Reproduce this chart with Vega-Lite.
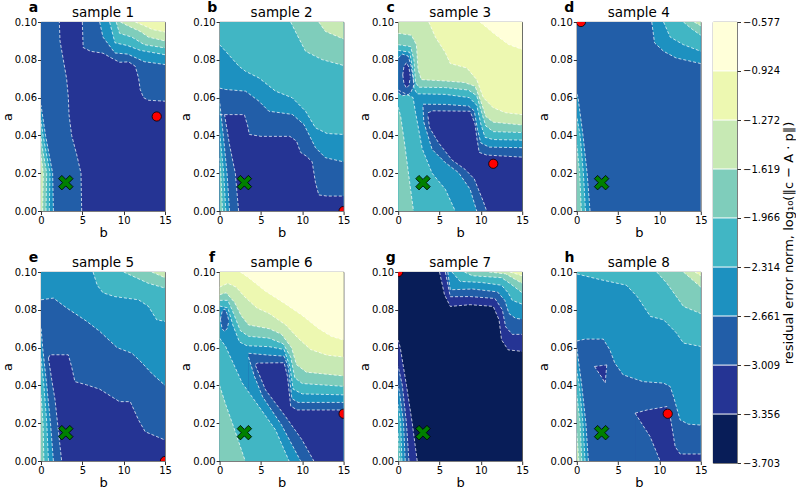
{
"$schema":"https://vega.github.io/schema/vega-lite/v6.json",
"padding":{"left":0,"top":0,"right":0,"bottom":0},
"config":{"font":"DejaVu Sans","view":{"stroke":"#333","strokeWidth":0.8},
"header":{"labels":false,"title":null,"labelPadding":0,"labelFontSize":0.1,"labelExpr":"''"},
"axis":{"labelFont":"DejaVu Sans","labelFontSize":10,"labelColor":"black","titleFont":"DejaVu Sans","titleFontSize":13,"titleFontWeight":"normal","titleColor":"black","tickColor":"#333","tickSize":3.5,"domain":false,"grid":false,"labelPadding":1,"labelOverlap":false}},
"hconcat":[
{
"data":{"values":[
{"s":1,"k":"bs","g":1,"v":1,"b":0,"a":0.1,"a2":0},{"s":1,"k":"bs","g":1,"v":1,"b":15,"a":0.1,"a2":0},
{"s":1,"k":"up","g":2,"v":2,"b":5.0,"a":0.1,"a2":0.1},{"s":1,"k":"up","g":2,"v":2,"b":5.1,"a":0.0865,"a2":0.1},{"s":1,"k":"up","g":2,"v":2,"b":6,"a":0.0845,"a2":0.1},{"s":1,"k":"up","g":2,"v":2,"b":7.5,"a":0.0835,"a2":0.1},{"s":1,"k":"up","g":2,"v":2,"b":8.5,"a":0.081,"a2":0.1},{"s":1,"k":"up","g":2,"v":2,"b":9.5,"a":0.0787,"a2":0.1},{"s":1,"k":"up","g":2,"v":2,"b":10.6,"a":0.0789,"a2":0.1},{"s":1,"k":"up","g":2,"v":2,"b":11.4,"a":0.0766,"a2":0.1},{"s":1,"k":"up","g":2,"v":2,"b":11.8,"a":0.0704,"a2":0.1},{"s":1,"k":"up","g":2,"v":2,"b":12.0,"a":0.0643,"a2":0.1},{"s":1,"k":"up","g":2,"v":2,"b":12.4,"a":0.06,"a2":0.1},{"s":1,"k":"up","g":2,"v":2,"b":13,"a":0.0586,"a2":0.1},{"s":1,"k":"up","g":2,"v":2,"b":15,"a":0.0581,"a2":0.1},
{"s":1,"k":"up","g":3,"v":3,"b":7.1,"a":0.1,"a2":0.1},{"s":1,"k":"up","g":3,"v":3,"b":7.5,"a":0.092,"a2":0.1},{"s":1,"k":"up","g":3,"v":3,"b":8.95,"a":0.0836,"a2":0.1},{"s":1,"k":"up","g":3,"v":3,"b":10.5,"a":0.083,"a2":0.1},{"s":1,"k":"up","g":3,"v":3,"b":11.5,"a":0.081,"a2":0.1},{"s":1,"k":"up","g":3,"v":3,"b":12.5,"a":0.079,"a2":0.1},{"s":1,"k":"up","g":3,"v":3,"b":15,"a":0.0775,"a2":0.1},
{"s":1,"k":"up","g":4,"v":4,"b":8.3,"a":0.1,"a2":0.1},{"s":1,"k":"up","g":4,"v":4,"b":8.95,"a":0.089,"a2":0.1},{"s":1,"k":"up","g":4,"v":4,"b":10.5,"a":0.0875,"a2":0.1},{"s":1,"k":"up","g":4,"v":4,"b":12,"a":0.085,"a2":0.1},{"s":1,"k":"up","g":4,"v":4,"b":15,"a":0.0827,"a2":0.1},
{"s":1,"k":"up","g":5,"v":5,"b":9.1,"a":0.1,"a2":0.1},{"s":1,"k":"up","g":5,"v":5,"b":9.5,"a":0.094,"a2":0.1},{"s":1,"k":"up","g":5,"v":5,"b":11,"a":0.092,"a2":0.1},{"s":1,"k":"up","g":5,"v":5,"b":12.5,"a":0.088,"a2":0.1},{"s":1,"k":"up","g":5,"v":5,"b":15,"a":0.0863,"a2":0.1},
{"s":1,"k":"up","g":6,"v":6,"b":9.6,"a":0.1,"a2":0.1},{"s":1,"k":"up","g":6,"v":6,"b":10.5,"a":0.098,"a2":0.1},{"s":1,"k":"up","g":6,"v":6,"b":12,"a":0.095,"a2":0.1},{"s":1,"k":"up","g":6,"v":6,"b":13,"a":0.092,"a2":0.1},{"s":1,"k":"up","g":6,"v":6,"b":15,"a":0.09,"a2":0.1},
{"s":1,"k":"up","g":7,"v":7,"b":11.4,"a":0.1,"a2":0.1},{"s":1,"k":"up","g":7,"v":7,"b":12.5,"a":0.098,"a2":0.1},{"s":1,"k":"up","g":7,"v":7,"b":13.5,"a":0.096,"a2":0.1},{"s":1,"k":"up","g":7,"v":7,"b":15,"a":0.0947,"a2":0.1},
{"s":1,"k":"lf","g":8,"v":2,"a":0,"b":4.92,"b2":0},{"s":1,"k":"lf","g":8,"v":2,"a":0.02,"b":4.84,"b2":0},{"s":1,"k":"lf","g":8,"v":2,"a":0.03,"b":4.31,"b2":0},{"s":1,"k":"lf","g":8,"v":2,"a":0.04,"b":3.71,"b2":0},{"s":1,"k":"lf","g":8,"v":2,"a":0.051,"b":3.39,"b2":0},{"s":1,"k":"lf","g":8,"v":2,"a":0.06,"b":3.31,"b2":0},{"s":1,"k":"lf","g":8,"v":2,"a":0.07,"b":3.1,"b2":0},{"s":1,"k":"lf","g":8,"v":2,"a":0.08,"b":2.7,"b2":0},{"s":1,"k":"lf","g":8,"v":2,"a":0.09,"b":2.3,"b2":0},{"s":1,"k":"lf","g":8,"v":2,"a":0.1,"b":2.22,"b2":0},
{"s":1,"k":"lf","g":9,"v":3,"a":0,"b":1.5,"b2":0},{"s":1,"k":"lf","g":9,"v":3,"a":0.02,"b":1.41,"b2":0},{"s":1,"k":"lf","g":9,"v":3,"a":0.04,"b":0.55,"b2":0},{"s":1,"k":"lf","g":9,"v":3,"a":0.056,"b":0,"b2":0},
{"s":1,"k":"lf","g":10,"v":4,"a":0,"b":1.0,"b2":0},{"s":1,"k":"lf","g":10,"v":4,"a":0.02,"b":1.09,"b2":0},{"s":1,"k":"lf","g":10,"v":4,"a":0.04,"b":0.25,"b2":0},{"s":1,"k":"lf","g":10,"v":4,"a":0.048,"b":0,"b2":0},
{"s":1,"k":"lf","g":11,"v":5,"a":0,"b":0.6,"b2":0},{"s":1,"k":"lf","g":11,"v":5,"a":0.02,"b":0.69,"b2":0},{"s":1,"k":"lf","g":11,"v":5,"a":0.035,"b":0.1,"b2":0},{"s":1,"k":"lf","g":11,"v":5,"a":0.04,"b":0,"b2":0},
{"s":1,"k":"lf","g":12,"v":6,"a":0,"b":0.2,"b2":0},{"s":1,"k":"lf","g":12,"v":6,"a":0.02,"b":0.28,"b2":0},{"s":1,"k":"lf","g":12,"v":6,"a":0.03,"b":0,"b2":0},
{"s":1,"k":"red","b":14,"a":0.05},{"s":1,"k":"grn","b":3,"a":0.015},{"s":1,"k":"lab","t":"a","n":"sample 1"},

{"s":2,"k":"bs","g":1,"v":4,"b":0,"a":0.1,"a2":0},{"s":2,"k":"bs","g":1,"v":4,"b":15,"a":0.1,"a2":0},
{"s":2,"k":"dn","g":2,"v":3,"b":0,"a":0.088,"a2":0},{"s":2,"k":"dn","g":2,"v":3,"b":0.73,"a":0.0845,"a2":0},{"s":2,"k":"dn","g":2,"v":3,"b":2.34,"a":0.0766,"a2":0},{"s":2,"k":"dn","g":2,"v":3,"b":3.14,"a":0.0739,"a2":0},{"s":2,"k":"dn","g":2,"v":3,"b":4.76,"a":0.0704,"a2":0},{"s":2,"k":"dn","g":2,"v":3,"b":6.77,"a":0.0634,"a2":0},{"s":2,"k":"dn","g":2,"v":3,"b":8.79,"a":0.0599,"a2":0},{"s":2,"k":"dn","g":2,"v":3,"b":10.4,"a":0.0528,"a2":0},{"s":2,"k":"dn","g":2,"v":3,"b":11.6,"a":0.044,"a2":0},{"s":2,"k":"dn","g":2,"v":3,"b":13,"a":0.041,"a2":0},{"s":2,"k":"dn","g":2,"v":3,"b":15,"a":0.0405,"a2":0},
{"s":2,"k":"dn","g":3,"v":2,"b":0,"a":0.065,"a2":0},{"s":2,"k":"dn","g":3,"v":2,"b":0.73,"a":0.0643,"a2":0},{"s":2,"k":"dn","g":3,"v":2,"b":3.14,"a":0.0634,"a2":0},{"s":2,"k":"dn","g":3,"v":2,"b":4.76,"a":0.0581,"a2":0},{"s":2,"k":"dn","g":3,"v":2,"b":5.96,"a":0.0528,"a2":0},{"s":2,"k":"dn","g":3,"v":2,"b":8.8,"a":0.0511,"a2":0},{"s":2,"k":"dn","g":3,"v":2,"b":10.2,"a":0.0458,"a2":0},{"s":2,"k":"dn","g":3,"v":2,"b":11.6,"a":0.0335,"a2":0},{"s":2,"k":"dn","g":3,"v":2,"b":12.8,"a":0.0282,"a2":0},{"s":2,"k":"dn","g":3,"v":2,"b":15,"a":0.026,"a2":0},
{"s":2,"k":"dn","g":4,"v":1,"b":0,"a":0.051,"a2":0},{"s":2,"k":"dn","g":4,"v":1,"b":3.0,"a":0.051,"a2":0},{"s":2,"k":"dn","g":4,"v":1,"b":3.4,"a":0.045,"a2":0},{"s":2,"k":"dn","g":4,"v":1,"b":3.6,"a":0.0405,"a2":0},{"s":2,"k":"dn","g":4,"v":1,"b":5,"a":0.0395,"a2":0},{"s":2,"k":"dn","g":4,"v":1,"b":8.5,"a":0.0395,"a2":0},{"s":2,"k":"dn","g":4,"v":1,"b":9.3,"a":0.037,"a2":0},{"s":2,"k":"dn","g":4,"v":1,"b":9.8,"a":0.031,"a2":0},{"s":2,"k":"dn","g":4,"v":1,"b":10.5,"a":0.029,"a2":0},{"s":2,"k":"dn","g":4,"v":1,"b":11.2,"a":0.026,"a2":0},{"s":2,"k":"dn","g":4,"v":1,"b":11.6,"a":0.015,"a2":0},{"s":2,"k":"dn","g":4,"v":1,"b":12,"a":0.0085,"a2":0},{"s":2,"k":"dn","g":4,"v":1,"b":13,"a":0.0079,"a2":0},{"s":2,"k":"dn","g":4,"v":1,"b":15,"a":0.0079,"a2":0},
{"s":2,"k":"up","g":5,"v":5,"b":8.6,"a":0.1,"a2":0.1},{"s":2,"k":"up","g":5,"v":5,"b":9.4,"a":0.093,"a2":0.1},{"s":2,"k":"up","g":5,"v":5,"b":10.4,"a":0.0845,"a2":0.1},{"s":2,"k":"up","g":5,"v":5,"b":12.4,"a":0.0801,"a2":0.1},{"s":2,"k":"up","g":5,"v":5,"b":15,"a":0.077,"a2":0.1},
{"s":2,"k":"up","g":6,"v":6,"b":12.0,"a":0.1,"a2":0.1},{"s":2,"k":"up","g":6,"v":6,"b":12.8,"a":0.095,"a2":0.1},{"s":2,"k":"up","g":6,"v":6,"b":15,"a":0.091,"a2":0.1},
{"s":2,"k":"lf","g":7,"v":2,"a":0,"b":2.3,"b2":0},{"s":2,"k":"lf","g":7,"v":2,"a":0.02,"b":1.9,"b2":0},{"s":2,"k":"lf","g":7,"v":2,"a":0.035,"b":1.2,"b2":0},{"s":2,"k":"lf","g":7,"v":2,"a":0.051,"b":0.6,"b2":0},
{"s":2,"k":"lf","g":8,"v":3,"a":0,"b":1.2,"b2":0},{"s":2,"k":"lf","g":8,"v":3,"a":0.02,"b":0.9,"b2":0},{"s":2,"k":"lf","g":8,"v":3,"a":0.04,"b":0.45,"b2":0},{"s":2,"k":"lf","g":8,"v":3,"a":0.058,"b":0,"b2":0},
{"s":2,"k":"lf","g":9,"v":4,"a":0,"b":0.75,"b2":0},{"s":2,"k":"lf","g":9,"v":4,"a":0.02,"b":0.5,"b2":0},{"s":2,"k":"lf","g":9,"v":4,"a":0.035,"b":0.15,"b2":0},{"s":2,"k":"lf","g":9,"v":4,"a":0.042,"b":0,"b2":0},
{"s":2,"k":"lf","g":10,"v":5,"a":0,"b":0.35,"b2":0},{"s":2,"k":"lf","g":10,"v":5,"a":0.02,"b":0.15,"b2":0},{"s":2,"k":"lf","g":10,"v":5,"a":0.028,"b":0,"b2":0},
{"s":2,"k":"red","b":15,"a":0},{"s":2,"k":"grn","b":3,"a":0.015},{"s":2,"k":"lab","t":"b","n":"sample 2"},

{"s":3,"k":"bs","g":1,"v":6,"b":0,"a":0.1,"a2":0},{"s":3,"k":"bs","g":1,"v":6,"b":15,"a":0.1,"a2":0},
{"s":3,"k":"up","g":2,"v":7,"b":3.7,"a":0.1,"a2":0.1},{"s":3,"k":"up","g":2,"v":7,"b":4.5,"a":0.092,"a2":0.1},{"s":3,"k":"up","g":2,"v":7,"b":5.7,"a":0.0838,"a2":0.1},{"s":3,"k":"up","g":2,"v":7,"b":6.3,"a":0.078,"a2":0.1},{"s":3,"k":"up","g":2,"v":7,"b":8.3,"a":0.0757,"a2":0.1},{"s":3,"k":"up","g":2,"v":7,"b":9.5,"a":0.0695,"a2":0.1},{"s":3,"k":"up","g":2,"v":7,"b":10.3,"a":0.06,"a2":0.1},{"s":3,"k":"up","g":2,"v":7,"b":11.5,"a":0.0546,"a2":0.1},{"s":3,"k":"up","g":2,"v":7,"b":13,"a":0.052,"a2":0.1},{"s":3,"k":"up","g":2,"v":7,"b":15,"a":0.051,"a2":0.1},
{"s":3,"k":"up","g":3,"v":8,"b":9.9,"a":0.1,"a2":0.1},{"s":3,"k":"up","g":3,"v":8,"b":11.7,"a":0.0935,"a2":0.1},{"s":3,"k":"up","g":3,"v":8,"b":13.3,"a":0.0882,"a2":0.1},{"s":3,"k":"up","g":3,"v":8,"b":15,"a":0.0855,"a2":0.1},
{"s":3,"k":"dn","g":4,"v":5,"b":0,"a":0.094,"a2":0},{"s":3,"k":"dn","g":4,"v":5,"b":1.6,"a":0.093,"a2":0},{"s":3,"k":"dn","g":4,"v":5,"b":2.2,"a":0.088,"a2":0},{"s":3,"k":"dn","g":4,"v":5,"b":2.4,"a":0.075,"a2":0},{"s":3,"k":"dn","g":4,"v":5,"b":2.8,"a":0.0695,"a2":0},{"s":3,"k":"dn","g":4,"v":5,"b":5.7,"a":0.0688,"a2":0},{"s":3,"k":"dn","g":4,"v":5,"b":8,"a":0.068,"a2":0},{"s":3,"k":"dn","g":4,"v":5,"b":9.3,"a":0.066,"a2":0},{"s":3,"k":"dn","g":4,"v":5,"b":10,"a":0.058,"a2":0},{"s":3,"k":"dn","g":4,"v":5,"b":10.6,"a":0.05,"a2":0},{"s":3,"k":"dn","g":4,"v":5,"b":11.5,"a":0.047,"a2":0},{"s":3,"k":"dn","g":4,"v":5,"b":15,"a":0.0455,"a2":0},
{"s":3,"k":"dn","g":5,"v":4,"b":0,"a":0.088,"a2":0},{"s":3,"k":"dn","g":5,"v":4,"b":1.5,"a":0.087,"a2":0},{"s":3,"k":"dn","g":5,"v":4,"b":1.9,"a":0.08,"a2":0},{"s":3,"k":"dn","g":5,"v":4,"b":2.1,"a":0.068,"a2":0},{"s":3,"k":"dn","g":5,"v":4,"b":2.5,"a":0.0655,"a2":0},{"s":3,"k":"dn","g":5,"v":4,"b":5.7,"a":0.0653,"a2":0},{"s":3,"k":"dn","g":5,"v":4,"b":8.5,"a":0.064,"a2":0},{"s":3,"k":"dn","g":5,"v":4,"b":9.5,"a":0.061,"a2":0},{"s":3,"k":"dn","g":5,"v":4,"b":10.1,"a":0.052,"a2":0},{"s":3,"k":"dn","g":5,"v":4,"b":10.6,"a":0.045,"a2":0},{"s":3,"k":"dn","g":5,"v":4,"b":11.5,"a":0.042,"a2":0},{"s":3,"k":"dn","g":5,"v":4,"b":15,"a":0.0415,"a2":0},
{"s":3,"k":"dn","g":6,"v":3,"b":0,"a":0.085,"a2":0},{"s":3,"k":"dn","g":6,"v":3,"b":1.4,"a":0.084,"a2":0},{"s":3,"k":"dn","g":6,"v":3,"b":1.75,"a":0.075,"a2":0},{"s":3,"k":"dn","g":6,"v":3,"b":1.9,"a":0.065,"a2":0},{"s":3,"k":"dn","g":6,"v":3,"b":2.3,"a":0.062,"a2":0},{"s":3,"k":"dn","g":6,"v":3,"b":5.7,"a":0.0617,"a2":0},{"s":3,"k":"dn","g":6,"v":3,"b":8.6,"a":0.06,"a2":0},{"s":3,"k":"dn","g":6,"v":3,"b":9.5,"a":0.056,"a2":0},{"s":3,"k":"dn","g":6,"v":3,"b":10,"a":0.046,"a2":0},{"s":3,"k":"dn","g":6,"v":3,"b":10.5,"a":0.039,"a2":0},{"s":3,"k":"dn","g":6,"v":3,"b":11.5,"a":0.0378,"a2":0},{"s":3,"k":"dn","g":6,"v":3,"b":15,"a":0.0375,"a2":0},
{"s":3,"k":"dn","g":7,"v":2,"b":3.0,"a":0.0565,"a2":0},{"s":3,"k":"dn","g":7,"v":2,"b":5.7,"a":0.0564,"a2":0},{"s":3,"k":"dn","g":7,"v":2,"b":8.5,"a":0.0555,"a2":0},{"s":3,"k":"dn","g":7,"v":2,"b":9.2,"a":0.053,"a2":0},{"s":3,"k":"dn","g":7,"v":2,"b":9.6,"a":0.043,"a2":0},{"s":3,"k":"dn","g":7,"v":2,"b":10.0,"a":0.036,"a2":0},{"s":3,"k":"dn","g":7,"v":2,"b":11,"a":0.0338,"a2":0},{"s":3,"k":"dn","g":7,"v":2,"b":15,"a":0.0335,"a2":0},
{"s":3,"k":"dn","g":8,"v":1,"b":3.6,"a":0.052,"a2":0},{"s":3,"k":"dn","g":8,"v":1,"b":4.2,"a":0.053,"a2":0},{"s":3,"k":"dn","g":8,"v":1,"b":8.7,"a":0.0528,"a2":0},{"s":3,"k":"dn","g":8,"v":1,"b":9.3,"a":0.046,"a2":0},{"s":3,"k":"dn","g":8,"v":1,"b":9.5,"a":0.039,"a2":0},{"s":3,"k":"dn","g":8,"v":1,"b":9.8,"a":0.031,"a2":0},{"s":3,"k":"dn","g":8,"v":1,"b":10.7,"a":0.0296,"a2":0},{"s":3,"k":"dn","g":8,"v":1,"b":15,"a":0.0285,"a2":0},
{"s":3,"k":"dn","g":9,"v":2,"b":3.6,"a":0.05,"a2":0},{"s":3,"k":"dn","g":9,"v":2,"b":3.8,"a":0.044,"a2":0},{"s":3,"k":"dn","g":9,"v":2,"b":4.9,"a":0.036,"a2":0},{"s":3,"k":"dn","g":9,"v":2,"b":6.5,"a":0.027,"a2":0},{"s":3,"k":"dn","g":9,"v":2,"b":8.1,"a":0.022,"a2":0},{"s":3,"k":"dn","g":9,"v":2,"b":9.2,"a":0.017,"a2":0},{"s":3,"k":"dn","g":9,"v":2,"b":9.7,"a":0.0115,"a2":0},{"s":3,"k":"dn","g":9,"v":2,"b":10.3,"a":0.005,"a2":0},{"s":3,"k":"dn","g":9,"v":2,"b":10.7,"a":0,"a2":0},
{"s":3,"k":"dn","g":10,"v":3,"b":3.0,"a":0.055,"a2":0},{"s":3,"k":"dn","g":10,"v":3,"b":3.1,"a":0.047,"a2":0},{"s":3,"k":"dn","g":10,"v":3,"b":4.1,"a":0.0326,"a2":0},{"s":3,"k":"dn","g":10,"v":3,"b":5.7,"a":0.0256,"a2":0},{"s":3,"k":"dn","g":10,"v":3,"b":7.3,"a":0.0203,"a2":0},{"s":3,"k":"dn","g":10,"v":3,"b":8.7,"a":0.0115,"a2":0},{"s":3,"k":"dn","g":10,"v":3,"b":9.5,"a":0,"a2":0},
{"s":3,"k":"dn","g":11,"v":4,"b":0,"a":0.064,"a2":0},{"s":3,"k":"dn","g":11,"v":4,"b":1.8,"a":0.06,"a2":0},{"s":3,"k":"dn","g":11,"v":4,"b":2.1,"a":0.052,"a2":0},{"s":3,"k":"dn","g":11,"v":4,"b":2.4,"a":0.045,"a2":0},{"s":3,"k":"dn","g":11,"v":4,"b":2.9,"a":0.033,"a2":0},{"s":3,"k":"dn","g":11,"v":4,"b":4.1,"a":0.02,"a2":0},{"s":3,"k":"dn","g":11,"v":4,"b":5.7,"a":0.0115,"a2":0},{"s":3,"k":"dn","g":11,"v":4,"b":6.9,"a":0,"a2":0},
{"s":3,"k":"dn","g":12,"v":5,"b":0,"a":0.055,"a2":0},{"s":3,"k":"dn","g":12,"v":5,"b":0.3,"a":0.05,"a2":0},{"s":3,"k":"dn","g":12,"v":5,"b":0.8,"a":0.035,"a2":0},{"s":3,"k":"dn","g":12,"v":5,"b":1.3,"a":0.018,"a2":0},{"s":3,"k":"dn","g":12,"v":5,"b":1.85,"a":0,"a2":0},
{"s":3,"k":"cl","g":13,"v":2,"b":0,"a":0.081,"a2":0.0625},{"s":3,"k":"cl","g":13,"v":2,"b":0.5,"a":0.083,"a2":0.061},{"s":3,"k":"cl","g":13,"v":2,"b":1.2,"a":0.082,"a2":0.0615},{"s":3,"k":"cl","g":13,"v":2,"b":1.55,"a":0.077,"a2":0.063},{"s":3,"k":"cl","g":13,"v":2,"b":1.85,"a":0.069,"a2":0.066},{"s":3,"k":"cl","g":13,"v":2,"b":2.0,"a":0.0675,"a2":0.0675},
{"s":3,"k":"cl","g":14,"v":1,"b":0.55,"a":0.072,"a2":0.072},{"s":3,"k":"cl","g":14,"v":1,"b":0.7,"a":0.0765,"a2":0.0675},{"s":3,"k":"cl","g":14,"v":1,"b":1.0,"a":0.0785,"a2":0.065},{"s":3,"k":"cl","g":14,"v":1,"b":1.3,"a":0.076,"a2":0.0665},{"s":3,"k":"cl","g":14,"v":1,"b":1.45,"a":0.0715,"a2":0.0705},
{"s":3,"k":"red","b":11.5,"a":0.025},{"s":3,"k":"grn","b":3,"a":0.015},{"s":3,"k":"lab","t":"c","n":"sample 3"},

{"s":4,"k":"bs","g":1,"v":2,"b":0,"a":0.1,"a2":0},{"s":4,"k":"bs","g":1,"v":2,"b":15,"a":0.1,"a2":0},
{"s":4,"k":"up","g":2,"v":3,"b":9.07,"a":0.1,"a2":0.1},{"s":4,"k":"up","g":2,"v":3,"b":9.4,"a":0.089,"a2":0.1},{"s":4,"k":"up","g":2,"v":3,"b":10.5,"a":0.0845,"a2":0.1},{"s":4,"k":"up","g":2,"v":3,"b":12,"a":0.081,"a2":0.1},{"s":4,"k":"up","g":2,"v":3,"b":15,"a":0.078,"a2":0.1},
{"s":4,"k":"up","g":3,"v":4,"b":10.5,"a":0.1,"a2":0.1},{"s":4,"k":"up","g":3,"v":4,"b":11.3,"a":0.092,"a2":0.1},{"s":4,"k":"up","g":3,"v":4,"b":12.9,"a":0.088,"a2":0.1},{"s":4,"k":"up","g":3,"v":4,"b":15,"a":0.0845,"a2":0.1},
{"s":4,"k":"up","g":4,"v":5,"b":12.9,"a":0.1,"a2":0.1},{"s":4,"k":"up","g":4,"v":5,"b":14,"a":0.096,"a2":0.1},{"s":4,"k":"up","g":4,"v":5,"b":15,"a":0.093,"a2":0.1},
{"s":4,"k":"up","g":5,"v":6,"b":14.2,"a":0.1,"a2":0.1},{"s":4,"k":"up","g":5,"v":6,"b":15,"a":0.098,"a2":0.1},
{"s":4,"k":"lf","g":6,"v":3,"a":0,"b":1.6,"b2":0},{"s":4,"k":"lf","g":6,"v":3,"a":0.02,"b":1.25,"b2":0},{"s":4,"k":"lf","g":6,"v":3,"a":0.04,"b":0.75,"b2":0},{"s":4,"k":"lf","g":6,"v":3,"a":0.06,"b":0.15,"b2":0},{"s":4,"k":"lf","g":6,"v":3,"a":0.062,"b":0,"b2":0},
{"s":4,"k":"lf","g":7,"v":4,"a":0,"b":1.05,"b2":0},{"s":4,"k":"lf","g":7,"v":4,"a":0.02,"b":0.8,"b2":0},{"s":4,"k":"lf","g":7,"v":4,"a":0.04,"b":0.4,"b2":0},{"s":4,"k":"lf","g":7,"v":4,"a":0.05,"b":0,"b2":0},
{"s":4,"k":"lf","g":8,"v":5,"a":0,"b":0.55,"b2":0},{"s":4,"k":"lf","g":8,"v":5,"a":0.02,"b":0.35,"b2":0},{"s":4,"k":"lf","g":8,"v":5,"a":0.035,"b":0,"b2":0},
{"s":4,"k":"red","b":0.5,"a":0.1},{"s":4,"k":"grn","b":3,"a":0.015},{"s":4,"k":"lab","t":"d","n":"sample 4"},

{"s":5,"k":"bs","g":1,"v":3,"b":0,"a":0.1,"a2":0},{"s":5,"k":"bs","g":1,"v":3,"b":15,"a":0.1,"a2":0},
{"s":5,"k":"dn","g":2,"v":2,"b":0,"a":0.0853,"a2":0},{"s":5,"k":"dn","g":2,"v":2,"b":1.5,"a":0.0862,"a2":0},{"s":5,"k":"dn","g":2,"v":2,"b":3.1,"a":0.081,"a2":0},{"s":5,"k":"dn","g":2,"v":2,"b":5.5,"a":0.074,"a2":0},{"s":5,"k":"dn","g":2,"v":2,"b":7.1,"a":0.0686,"a2":0},{"s":5,"k":"dn","g":2,"v":2,"b":9.2,"a":0.06,"a2":0},{"s":5,"k":"dn","g":2,"v":2,"b":11,"a":0.057,"a2":0},{"s":5,"k":"dn","g":2,"v":2,"b":12.2,"a":0.052,"a2":0},{"s":5,"k":"dn","g":2,"v":2,"b":13.4,"a":0.0463,"a2":0},{"s":5,"k":"dn","g":2,"v":2,"b":15,"a":0.04,"a2":0},
{"s":5,"k":"up","g":3,"v":4,"b":6.3,"a":0.1,"a2":0.1},{"s":5,"k":"up","g":3,"v":4,"b":6.8,"a":0.093,"a2":0.1},{"s":5,"k":"up","g":3,"v":4,"b":7.5,"a":0.089,"a2":0.1},{"s":5,"k":"up","g":3,"v":4,"b":8.9,"a":0.087,"a2":0.1},{"s":5,"k":"up","g":3,"v":4,"b":11.8,"a":0.0853,"a2":0.1},{"s":5,"k":"up","g":3,"v":4,"b":13,"a":0.0818,"a2":0.1},{"s":5,"k":"up","g":3,"v":4,"b":14,"a":0.0747,"a2":0.1},{"s":5,"k":"up","g":3,"v":4,"b":15,"a":0.0739,"a2":0.1},
{"s":5,"k":"up","g":4,"v":5,"b":10,"a":0.1,"a2":0.1},{"s":5,"k":"up","g":4,"v":5,"b":11.5,"a":0.097,"a2":0.1},{"s":5,"k":"up","g":4,"v":5,"b":13,"a":0.094,"a2":0.1},{"s":5,"k":"up","g":4,"v":5,"b":15,"a":0.0915,"a2":0.1},
{"s":5,"k":"up","g":5,"v":6,"b":13.4,"a":0.1,"a2":0.1},{"s":5,"k":"up","g":5,"v":6,"b":14.2,"a":0.0985,"a2":0.1},{"s":5,"k":"up","g":5,"v":6,"b":15,"a":0.097,"a2":0.1},
{"s":5,"k":"dn","g":6,"v":1,"b":0.9,"a":0.0545,"a2":0},{"s":5,"k":"dn","g":6,"v":1,"b":1.1,"a":0.0562,"a2":0},{"s":5,"k":"dn","g":6,"v":1,"b":3.3,"a":0.0562,"a2":0},{"s":5,"k":"dn","g":6,"v":1,"b":3.7,"a":0.05,"a2":0},{"s":5,"k":"dn","g":6,"v":1,"b":4.1,"a":0.042,"a2":0},{"s":5,"k":"dn","g":6,"v":1,"b":5.5,"a":0.0403,"a2":0},{"s":5,"k":"dn","g":6,"v":1,"b":7.1,"a":0.038,"a2":0},{"s":5,"k":"dn","g":6,"v":1,"b":9.5,"a":0.0314,"a2":0},{"s":5,"k":"dn","g":6,"v":1,"b":10.8,"a":0.0314,"a2":0},{"s":5,"k":"dn","g":6,"v":1,"b":11.8,"a":0.0217,"a2":0},{"s":5,"k":"dn","g":6,"v":1,"b":12.6,"a":0.0155,"a2":0},{"s":5,"k":"dn","g":6,"v":1,"b":15,"a":0.0111,"a2":0},
{"s":5,"k":"dn","g":7,"v":2,"b":0.9,"a":0.0545,"a2":0},{"s":5,"k":"dn","g":7,"v":2,"b":1.3,"a":0.043,"a2":0},{"s":5,"k":"dn","g":7,"v":2,"b":1.7,"a":0.0323,"a2":0},{"s":5,"k":"dn","g":7,"v":2,"b":2.1,"a":0.016,"a2":0},{"s":5,"k":"dn","g":7,"v":2,"b":2.5,"a":0,"a2":0},
{"s":5,"k":"lf","g":8,"v":3,"a":0,"b":1.5,"b2":0},{"s":5,"k":"lf","g":8,"v":3,"a":0.02,"b":1.15,"b2":0},{"s":5,"k":"lf","g":8,"v":3,"a":0.04,"b":0.7,"b2":0},{"s":5,"k":"lf","g":8,"v":3,"a":0.06,"b":0.2,"b2":0},{"s":5,"k":"lf","g":8,"v":3,"a":0.071,"b":0,"b2":0},
{"s":5,"k":"lf","g":9,"v":4,"a":0,"b":0.9,"b2":0},{"s":5,"k":"lf","g":9,"v":4,"a":0.02,"b":0.7,"b2":0},{"s":5,"k":"lf","g":9,"v":4,"a":0.04,"b":0.35,"b2":0},{"s":5,"k":"lf","g":9,"v":4,"a":0.055,"b":0,"b2":0},
{"s":5,"k":"lf","g":10,"v":5,"a":0,"b":0.35,"b2":0},{"s":5,"k":"lf","g":10,"v":5,"a":0.02,"b":0.25,"b2":0},{"s":5,"k":"lf","g":10,"v":5,"a":0.035,"b":0,"b2":0},
{"s":5,"k":"red","b":15,"a":0},{"s":5,"k":"grn","b":3,"a":0.015},{"s":5,"k":"lab","t":"e","n":"sample 5"},

{"s":6,"k":"bs","g":1,"v":7,"b":0,"a":0.1,"a2":0},{"s":6,"k":"bs","g":1,"v":7,"b":15,"a":0.1,"a2":0},
{"s":6,"k":"up","g":2,"v":8,"b":2.5,"a":0.1,"a2":0.1},{"s":6,"k":"up","g":2,"v":8,"b":3.5,"a":0.097,"a2":0.1},{"s":6,"k":"up","g":2,"v":8,"b":5.5,"a":0.09,"a2":0.1},{"s":6,"k":"up","g":2,"v":8,"b":8,"a":0.083,"a2":0.1},{"s":6,"k":"up","g":2,"v":8,"b":10,"a":0.077,"a2":0.1},{"s":6,"k":"up","g":2,"v":8,"b":12,"a":0.07,"a2":0.1},{"s":6,"k":"up","g":2,"v":8,"b":13.5,"a":0.066,"a2":0.1},{"s":6,"k":"up","g":2,"v":8,"b":15,"a":0.064,"a2":0.1},
{"s":6,"k":"dn","g":3,"v":6,"b":0,"a":0.092,"a2":0},{"s":6,"k":"dn","g":3,"v":6,"b":1,"a":0.094,"a2":0},{"s":6,"k":"dn","g":3,"v":6,"b":2,"a":0.092,"a2":0},{"s":6,"k":"dn","g":3,"v":6,"b":3,"a":0.087,"a2":0},{"s":6,"k":"dn","g":3,"v":6,"b":4.5,"a":0.081,"a2":0},{"s":6,"k":"dn","g":3,"v":6,"b":6,"a":0.078,"a2":0},{"s":6,"k":"dn","g":3,"v":6,"b":8,"a":0.072,"a2":0},{"s":6,"k":"dn","g":3,"v":6,"b":9.5,"a":0.065,"a2":0},{"s":6,"k":"dn","g":3,"v":6,"b":11,"a":0.059,"a2":0},{"s":6,"k":"dn","g":3,"v":6,"b":13,"a":0.056,"a2":0},{"s":6,"k":"dn","g":3,"v":6,"b":15,"a":0.055,"a2":0},
{"s":6,"k":"dn","g":4,"v":5,"b":0,"a":0.088,"a2":0},{"s":6,"k":"dn","g":4,"v":5,"b":0.8,"a":0.089,"a2":0},{"s":6,"k":"dn","g":4,"v":5,"b":1.8,"a":0.084,"a2":0},{"s":6,"k":"dn","g":4,"v":5,"b":2.6,"a":0.077,"a2":0},{"s":6,"k":"dn","g":4,"v":5,"b":3.5,"a":0.072,"a2":0},{"s":6,"k":"dn","g":4,"v":5,"b":6,"a":0.07,"a2":0},{"s":6,"k":"dn","g":4,"v":5,"b":7.5,"a":0.067,"a2":0},{"s":6,"k":"dn","g":4,"v":5,"b":8.7,"a":0.06,"a2":0},{"s":6,"k":"dn","g":4,"v":5,"b":9.3,"a":0.051,"a2":0},{"s":6,"k":"dn","g":4,"v":5,"b":10.5,"a":0.047,"a2":0},{"s":6,"k":"dn","g":4,"v":5,"b":15,"a":0.045,"a2":0},
{"s":6,"k":"dn","g":5,"v":4,"b":0,"a":0.085,"a2":0},{"s":6,"k":"dn","g":5,"v":4,"b":1,"a":0.085,"a2":0},{"s":6,"k":"dn","g":5,"v":4,"b":1.7,"a":0.078,"a2":0},{"s":6,"k":"dn","g":5,"v":4,"b":2.5,"a":0.069,"a2":0},{"s":6,"k":"dn","g":5,"v":4,"b":3.5,"a":0.066,"a2":0},{"s":6,"k":"dn","g":5,"v":4,"b":6,"a":0.065,"a2":0},{"s":6,"k":"dn","g":5,"v":4,"b":7.7,"a":0.062,"a2":0},{"s":6,"k":"dn","g":5,"v":4,"b":8.6,"a":0.055,"a2":0},{"s":6,"k":"dn","g":5,"v":4,"b":9.1,"a":0.044,"a2":0},{"s":6,"k":"dn","g":5,"v":4,"b":10,"a":0.041,"a2":0},{"s":6,"k":"dn","g":5,"v":4,"b":15,"a":0.0395,"a2":0},
{"s":6,"k":"dn","g":6,"v":3,"b":0,"a":0.082,"a2":0},{"s":6,"k":"dn","g":6,"v":3,"b":1,"a":0.081,"a2":0},{"s":6,"k":"dn","g":6,"v":3,"b":1.6,"a":0.072,"a2":0},{"s":6,"k":"dn","g":6,"v":3,"b":2.4,"a":0.063,"a2":0},{"s":6,"k":"dn","g":6,"v":3,"b":3.3,"a":0.061,"a2":0},{"s":6,"k":"dn","g":6,"v":3,"b":6,"a":0.0605,"a2":0},{"s":6,"k":"dn","g":6,"v":3,"b":7.8,"a":0.059,"a2":0},{"s":6,"k":"dn","g":6,"v":3,"b":8.5,"a":0.05,"a2":0},{"s":6,"k":"dn","g":6,"v":3,"b":8.9,"a":0.038,"a2":0},{"s":6,"k":"dn","g":6,"v":3,"b":10,"a":0.0355,"a2":0},{"s":6,"k":"dn","g":6,"v":3,"b":15,"a":0.035,"a2":0},
{"s":6,"k":"dn","g":7,"v":2,"b":3.5,"a":0.057,"a2":0},{"s":6,"k":"dn","g":7,"v":2,"b":6,"a":0.056,"a2":0},{"s":6,"k":"dn","g":7,"v":2,"b":7.8,"a":0.0555,"a2":0},{"s":6,"k":"dn","g":7,"v":2,"b":8.3,"a":0.05,"a2":0},{"s":6,"k":"dn","g":7,"v":2,"b":8.75,"a":0.033,"a2":0},{"s":6,"k":"dn","g":7,"v":2,"b":9.5,"a":0.031,"a2":0},{"s":6,"k":"dn","g":7,"v":2,"b":15,"a":0.031,"a2":0},
{"s":6,"k":"dn","g":8,"v":1,"b":4.35,"a":0.0512,"a2":0},{"s":6,"k":"dn","g":8,"v":1,"b":4.6,"a":0.0518,"a2":0},{"s":6,"k":"dn","g":8,"v":1,"b":7.8,"a":0.052,"a2":0},{"s":6,"k":"dn","g":8,"v":1,"b":8.2,"a":0.045,"a2":0},{"s":6,"k":"dn","g":8,"v":1,"b":8.6,"a":0.029,"a2":0},{"s":6,"k":"dn","g":8,"v":1,"b":9.4,"a":0.027,"a2":0},{"s":6,"k":"dn","g":8,"v":1,"b":15,"a":0.027,"a2":0},
{"s":6,"k":"dn","g":9,"v":2,"b":4.35,"a":0.0505,"a2":0},{"s":6,"k":"dn","g":9,"v":2,"b":5.56,"a":0.0376,"a2":0},{"s":6,"k":"dn","g":9,"v":2,"b":7.98,"a":0.0235,"a2":0},{"s":6,"k":"dn","g":9,"v":2,"b":10,"a":0.011,"a2":0},{"s":6,"k":"dn","g":9,"v":2,"b":11.4,"a":0,"a2":0},
{"s":6,"k":"dn","g":10,"v":3,"b":3.5,"a":0.055,"a2":0},{"s":6,"k":"dn","g":10,"v":3,"b":4.2,"a":0.045,"a2":0},{"s":6,"k":"dn","g":10,"v":3,"b":5.2,"a":0.034,"a2":0},{"s":6,"k":"dn","g":10,"v":3,"b":7.5,"a":0.019,"a2":0},{"s":6,"k":"dn","g":10,"v":3,"b":9.8,"a":0,"a2":0},
{"s":6,"k":"dn","g":11,"v":4,"b":0,"a":0.065,"a2":0},{"s":6,"k":"dn","g":11,"v":4,"b":0.73,"a":0.0606,"a2":0},{"s":6,"k":"dn","g":11,"v":4,"b":2.74,"a":0.0412,"a2":0},{"s":6,"k":"dn","g":11,"v":4,"b":4.76,"a":0.0288,"a2":0},{"s":6,"k":"dn","g":11,"v":4,"b":6.77,"a":0.0164,"a2":0},{"s":6,"k":"dn","g":11,"v":4,"b":8.4,"a":0,"a2":0},
{"s":6,"k":"dn","g":12,"v":5,"b":0,"a":0.04,"a2":0},{"s":6,"k":"dn","g":12,"v":5,"b":0.73,"a":0.03,"a2":0},{"s":6,"k":"dn","g":12,"v":5,"b":1.7,"a":0.018,"a2":0},{"s":6,"k":"dn","g":12,"v":5,"b":3.1,"a":0,"a2":0},
{"s":6,"k":"cl","g":13,"v":2,"b":0.1,"a":0.075,"a2":0.075},{"s":6,"k":"cl","g":13,"v":2,"b":0.3,"a":0.079,"a2":0.07},{"s":6,"k":"cl","g":13,"v":2,"b":0.6,"a":0.0805,"a2":0.0685},{"s":6,"k":"cl","g":13,"v":2,"b":0.9,"a":0.078,"a2":0.07},{"s":6,"k":"cl","g":13,"v":2,"b":1.1,"a":0.0745,"a2":0.0735},
{"s":6,"k":"red","b":15,"a":0.025},{"s":6,"k":"grn","b":3,"a":0.015},{"s":6,"k":"lab","t":"f","n":"sample 6"},

{"s":7,"k":"bs","g":1,"v":0,"b":0,"a":0.1,"a2":0},{"s":7,"k":"bs","g":1,"v":0,"b":15,"a":0.1,"a2":0},
{"s":7,"k":"up","g":2,"v":1,"b":5.0,"a":0.1,"a2":0.1},{"s":7,"k":"up","g":2,"v":1,"b":5.6,"a":0.088,"a2":0.1},{"s":7,"k":"up","g":2,"v":1,"b":6.3,"a":0.0818,"a2":0.1},{"s":7,"k":"up","g":2,"v":1,"b":8.7,"a":0.0827,"a2":0.1},{"s":7,"k":"up","g":2,"v":1,"b":11.5,"a":0.0818,"a2":0.1},{"s":7,"k":"up","g":2,"v":1,"b":12.2,"a":0.0747,"a2":0.1},{"s":7,"k":"up","g":2,"v":1,"b":12.5,"a":0.0641,"a2":0.1},{"s":7,"k":"up","g":2,"v":1,"b":13.3,"a":0.0588,"a2":0.1},{"s":7,"k":"up","g":2,"v":1,"b":15,"a":0.058,"a2":0.1},
{"s":7,"k":"up","g":3,"v":2,"b":5.7,"a":0.1,"a2":0.1},{"s":7,"k":"up","g":3,"v":2,"b":6.3,"a":0.0869,"a2":0.1},{"s":7,"k":"up","g":3,"v":2,"b":8.7,"a":0.087,"a2":0.1},{"s":7,"k":"up","g":3,"v":2,"b":11.7,"a":0.086,"a2":0.1},{"s":7,"k":"up","g":3,"v":2,"b":12.6,"a":0.08,"a2":0.1},{"s":7,"k":"up","g":3,"v":2,"b":13,"a":0.071,"a2":0.1},{"s":7,"k":"up","g":3,"v":2,"b":13.8,"a":0.067,"a2":0.1},{"s":7,"k":"up","g":3,"v":2,"b":15,"a":0.067,"a2":0.1},
{"s":7,"k":"up","g":4,"v":3,"b":6.0,"a":0.1,"a2":0.1},{"s":7,"k":"up","g":4,"v":3,"b":6.3,"a":0.0906,"a2":0.1},{"s":7,"k":"up","g":4,"v":3,"b":9,"a":0.091,"a2":0.1},{"s":7,"k":"up","g":4,"v":3,"b":12,"a":0.0895,"a2":0.1},{"s":7,"k":"up","g":4,"v":3,"b":12.9,"a":0.085,"a2":0.1},{"s":7,"k":"up","g":4,"v":3,"b":13.4,"a":0.078,"a2":0.1},{"s":7,"k":"up","g":4,"v":3,"b":14.2,"a":0.0755,"a2":0.1},{"s":7,"k":"up","g":4,"v":3,"b":15,"a":0.075,"a2":0.1},
{"s":7,"k":"up","g":5,"v":4,"b":6.5,"a":0.1,"a2":0.1},{"s":7,"k":"up","g":5,"v":4,"b":7.5,"a":0.095,"a2":0.1},{"s":7,"k":"up","g":5,"v":4,"b":10,"a":0.0945,"a2":0.1},{"s":7,"k":"up","g":5,"v":4,"b":12.5,"a":0.093,"a2":0.1},{"s":7,"k":"up","g":5,"v":4,"b":13.3,"a":0.089,"a2":0.1},{"s":7,"k":"up","g":5,"v":4,"b":13.8,"a":0.085,"a2":0.1},{"s":7,"k":"up","g":5,"v":4,"b":15,"a":0.083,"a2":0.1},
{"s":7,"k":"up","g":6,"v":5,"b":8,"a":0.1,"a2":0.1},{"s":7,"k":"up","g":6,"v":5,"b":9,"a":0.098,"a2":0.1},{"s":7,"k":"up","g":6,"v":5,"b":12.5,"a":0.097,"a2":0.1},{"s":7,"k":"up","g":6,"v":5,"b":13.5,"a":0.094,"a2":0.1},{"s":7,"k":"up","g":6,"v":5,"b":15,"a":0.089,"a2":0.1},
{"s":7,"k":"up","g":7,"v":6,"b":11,"a":0.1,"a2":0.1},{"s":7,"k":"up","g":7,"v":6,"b":13,"a":0.099,"a2":0.1},{"s":7,"k":"up","g":7,"v":6,"b":15,"a":0.094,"a2":0.1},
{"s":7,"k":"up","g":8,"v":7,"b":13.5,"a":0.1,"a2":0.1},{"s":7,"k":"up","g":8,"v":7,"b":15,"a":0.098,"a2":0.1},
{"s":7,"k":"lf","g":9,"v":1,"a":0,"b":2.3,"b2":0},{"s":7,"k":"lf","g":9,"v":1,"a":0.02,"b":1.7,"b2":0},{"s":7,"k":"lf","g":9,"v":1,"a":0.04,"b":1.0,"b2":0},{"s":7,"k":"lf","g":9,"v":1,"a":0.06,"b":0.25,"b2":0},{"s":7,"k":"lf","g":9,"v":1,"a":0.064,"b":0,"b2":0},
{"s":7,"k":"lf","g":10,"v":2,"a":0,"b":1.3,"b2":0},{"s":7,"k":"lf","g":10,"v":2,"a":0.02,"b":1.0,"b2":0},{"s":7,"k":"lf","g":10,"v":2,"a":0.04,"b":0.5,"b2":0},{"s":7,"k":"lf","g":10,"v":2,"a":0.05,"b":0,"b2":0},
{"s":7,"k":"lf","g":11,"v":3,"a":0,"b":0.85,"b2":0},{"s":7,"k":"lf","g":11,"v":3,"a":0.02,"b":0.65,"b2":0},{"s":7,"k":"lf","g":11,"v":3,"a":0.035,"b":0.2,"b2":0},{"s":7,"k":"lf","g":11,"v":3,"a":0.04,"b":0,"b2":0},
{"s":7,"k":"lf","g":12,"v":4,"a":0,"b":0.45,"b2":0},{"s":7,"k":"lf","g":12,"v":4,"a":0.02,"b":0.3,"b2":0},{"s":7,"k":"lf","g":12,"v":4,"a":0.03,"b":0,"b2":0},
{"s":7,"k":"lf","g":13,"v":5,"a":0,"b":0.2,"b2":0},{"s":7,"k":"lf","g":13,"v":5,"a":0.015,"b":0,"b2":0},
{"s":7,"k":"red","b":0,"a":0.1},{"s":7,"k":"grn","b":3,"a":0.015},{"s":7,"k":"lab","t":"g","n":"sample 7"},

{"s":8,"k":"bs","g":1,"v":3,"b":0,"a":0.1,"a2":0},{"s":8,"k":"bs","g":1,"v":3,"b":15,"a":0.1,"a2":0},
{"s":8,"k":"dn","g":2,"v":2,"b":0,"a":0.0635,"a2":0},{"s":8,"k":"dn","g":2,"v":2,"b":1,"a":0.0645,"a2":0},{"s":8,"k":"dn","g":2,"v":2,"b":3.2,"a":0.0645,"a2":0},{"s":8,"k":"dn","g":2,"v":2,"b":4.0,"a":0.0588,"a2":0},{"s":8,"k":"dn","g":2,"v":2,"b":4.6,"a":0.0518,"a2":0},{"s":8,"k":"dn","g":2,"v":2,"b":5.6,"a":0.0456,"a2":0},{"s":8,"k":"dn","g":2,"v":2,"b":8,"a":0.042,"a2":0},{"s":8,"k":"dn","g":2,"v":2,"b":10.5,"a":0.0412,"a2":0},{"s":8,"k":"dn","g":2,"v":2,"b":11.3,"a":0.0394,"a2":0},{"s":8,"k":"dn","g":2,"v":2,"b":11.7,"a":0.0341,"a2":0},{"s":8,"k":"dn","g":2,"v":2,"b":12.5,"a":0.0217,"a2":0},{"s":8,"k":"dn","g":2,"v":2,"b":13.5,"a":0.0195,"a2":0},{"s":8,"k":"dn","g":2,"v":2,"b":15,"a":0.019,"a2":0},
{"s":8,"k":"up","g":3,"v":4,"b":0,"a":0.099,"a2":0.1},{"s":8,"k":"up","g":3,"v":4,"b":2.8,"a":0.096,"a2":0.1},{"s":8,"k":"up","g":3,"v":4,"b":6,"a":0.093,"a2":0.1},{"s":8,"k":"up","g":3,"v":4,"b":7.3,"a":0.087,"a2":0.1},{"s":8,"k":"up","g":3,"v":4,"b":8.9,"a":0.0765,"a2":0.1},{"s":8,"k":"up","g":3,"v":4,"b":10.5,"a":0.0747,"a2":0.1},{"s":8,"k":"up","g":3,"v":4,"b":12,"a":0.068,"a2":0.1},{"s":8,"k":"up","g":3,"v":4,"b":12.9,"a":0.0624,"a2":0.1},{"s":8,"k":"up","g":3,"v":4,"b":15,"a":0.0606,"a2":0.1},
{"s":8,"k":"up","g":4,"v":5,"b":9.67,"a":0.1,"a2":0.1},{"s":8,"k":"up","g":4,"v":5,"b":10.9,"a":0.094,"a2":0.1},{"s":8,"k":"up","g":4,"v":5,"b":12.9,"a":0.0818,"a2":0.1},{"s":8,"k":"up","g":4,"v":5,"b":15,"a":0.078,"a2":0.1},
{"s":8,"k":"up","g":5,"v":6,"b":12.9,"a":0.1,"a2":0.1},{"s":8,"k":"up","g":5,"v":6,"b":15,"a":0.092,"a2":0.1},
{"s":8,"k":"up","g":6,"v":7,"b":14.3,"a":0.1,"a2":0.1},{"s":8,"k":"up","g":6,"v":7,"b":15,"a":0.098,"a2":0.1},
{"s":8,"k":"dn","g":7,"v":1,"b":7.05,"a":0.0253,"a2":0},{"s":8,"k":"dn","g":7,"v":1,"b":8.5,"a":0.027,"a2":0},{"s":8,"k":"dn","g":7,"v":1,"b":10.9,"a":0.0288,"a2":0},{"s":8,"k":"dn","g":7,"v":1,"b":11.3,"a":0.0235,"a2":0},{"s":8,"k":"dn","g":7,"v":1,"b":11.9,"a":0.0076,"a2":0},{"s":8,"k":"dn","g":7,"v":1,"b":12.5,"a":0.0037,"a2":0},{"s":8,"k":"dn","g":7,"v":1,"b":15,"a":0.0037,"a2":0},
{"s":8,"k":"dn","g":8,"v":2,"b":7.05,"a":0.0253,"a2":0},{"s":8,"k":"dn","g":8,"v":2,"b":8.87,"a":0.0129,"a2":0},{"s":8,"k":"dn","g":8,"v":2,"b":10.08,"a":0,"a2":0},
{"s":8,"k":"cl","g":9,"v":1,"b":2.14,"a":0.05,"a2":0.05},{"s":8,"k":"cl","g":9,"v":1,"b":3.0,"a":0.0505,"a2":0.0444},{"s":8,"k":"cl","g":9,"v":1,"b":3.43,"a":0.0507,"a2":0.0412},{"s":8,"k":"cl","g":9,"v":1,"b":3.63,"a":0.0509,"a2":0.0509},
{"s":8,"k":"lf","g":10,"v":3,"a":0,"b":1.4,"b2":0},{"s":8,"k":"lf","g":10,"v":3,"a":0.02,"b":1.1,"b2":0},{"s":8,"k":"lf","g":10,"v":3,"a":0.04,"b":0.6,"b2":0},{"s":8,"k":"lf","g":10,"v":3,"a":0.055,"b":0.15,"b2":0},{"s":8,"k":"lf","g":10,"v":3,"a":0.06,"b":0,"b2":0},
{"s":8,"k":"lf","g":11,"v":4,"a":0,"b":1.0,"b2":0},{"s":8,"k":"lf","g":11,"v":4,"a":0.02,"b":0.75,"b2":0},{"s":8,"k":"lf","g":11,"v":4,"a":0.04,"b":0.3,"b2":0},{"s":8,"k":"lf","g":11,"v":4,"a":0.048,"b":0,"b2":0},
{"s":8,"k":"lf","g":12,"v":5,"a":0,"b":0.6,"b2":0},{"s":8,"k":"lf","g":12,"v":5,"a":0.02,"b":0.4,"b2":0},{"s":8,"k":"lf","g":12,"v":5,"a":0.035,"b":0,"b2":0},
{"s":8,"k":"lf","g":13,"v":6,"a":0,"b":0.25,"b2":0},{"s":8,"k":"lf","g":13,"v":6,"a":0.015,"b":0,"b2":0},
{"s":8,"k":"red","b":11,"a":0.025},{"s":8,"k":"grn","b":3,"a":0.015},{"s":8,"k":"lab","t":"h","n":"sample 8"}
]},
"facet":{"field":"s","type":"ordinal","header":{"title":null,"labels":false,"labelExpr":"''","labelFontSize":0.1,"labelPadding":0}},
"columns":4,
"bounds":"flush",
"spacing":{"column":54.6,"row":61},
"resolve":{"axis":{"x":"independent","y":"independent"}},
"spec":{
"width":124,"height":189,
"layer":[
{"transform":[{"filter":{"field":"k","oneOf":["bs","up","dn","cl"]}}],
"mark":{"type":"area","orient":"vertical","clip":true},
"encoding":{
"x":{"field":"b","type":"quantitative","scale":{"domain":[0,15],"nice":false,"zero":false},"axis":{"values":[0,5,10,15],"tickCount":10,"title":"b","labelFlush":false,"labelOverlap":false,"titlePadding":1}},
"y":{"field":"a","type":"quantitative","stack":null,"scale":{"domain":[0,0.1],"nice":false,"zero":false},"axis":{"values":[0,0.02,0.04,0.06,0.08,0.1],"tickCount":12,"format":".2f","title":"a","titlePadding":0,"labelOverlap":false,"labelFlush":false}},
"y2":{"field":"a2"},
"color":{"field":"v","type":"ordinal","scale":{"domain":[0,1,2,3,4,5,6,7,8],"range":["#081d58","#253494","#225ea8","#1d91c0","#41b6c4","#7fcdbb","#c7e9b4","#edf8b1","#ffffd9"]},"legend":null},
"detail":{"field":"g"}}},
{"transform":[{"filter":{"field":"k","equal":"lf"}}],
"mark":{"type":"area","orient":"horizontal","clip":true},
"encoding":{
"x":{"field":"b","type":"quantitative","stack":null},
"x2":{"field":"b2"},
"y":{"field":"a","type":"quantitative","title":"a"},
"color":{"field":"v","type":"ordinal","legend":null},
"detail":{"field":"g"}}},
{"transform":[{"filter":{"field":"k","oneOf":["up","dn","cl"]}}],
"mark":{"type":"line","color":"white","strokeWidth":0.8,"strokeDash":[3,2],"opacity":0.9,"clip":true},
"encoding":{"x":{"field":"b","type":"quantitative"},"y":{"field":"a","type":"quantitative","title":"a"},"detail":{"field":"g"}}},
{"transform":[{"filter":{"field":"k","equal":"cl"}}],
"mark":{"type":"line","color":"white","strokeWidth":0.8,"strokeDash":[3,2],"opacity":0.9,"clip":true},
"encoding":{"x":{"field":"b","type":"quantitative"},"y":{"field":"a2","type":"quantitative","title":"a"},"detail":{"field":"g"}}},
{"transform":[{"filter":{"field":"k","equal":"lf"}}],
"mark":{"type":"line","color":"white","strokeWidth":0.8,"strokeDash":[3,2],"opacity":0.9,"clip":true},
"encoding":{"x":{"field":"b","type":"quantitative"},"y":{"field":"a","type":"quantitative","title":"a"},"order":{"field":"a"},"detail":{"field":"g"}}},
{"transform":[{"filter":{"field":"k","equal":"red"}}],
"mark":{"type":"point","shape":"circle","filled":true,"fill":"red","stroke":"black","strokeWidth":0.8,"size":85,"opacity":1,"clip":true},
"encoding":{"x":{"field":"b","type":"quantitative"},"y":{"field":"a","type":"quantitative","title":"a"}}},
{"transform":[{"filter":{"field":"k","equal":"grn"}}],
"mark":{"type":"point","shape":"M-0.55,-1L0,-0.45L0.55,-1L1,-0.55L0.45,0L1,0.55L0.55,1L0,0.45L-0.55,1L-1,0.55L-0.45,0L-1,-0.55Z","filled":true,"fill":"#008000","stroke":"black","strokeWidth":0.8,"size":210,"opacity":1},
"encoding":{"x":{"field":"b","type":"quantitative"},"y":{"field":"a","type":"quantitative","title":"a"}}},
{"transform":[{"filter":{"field":"k","equal":"lab"}}],
"mark":{"type":"text","fontWeight":"bold","fontSize":14,"align":"center","baseline":"alphabetic","color":"black"},
"encoding":{"x":{"datum":-0.9,"type":"quantitative"},"y":{"datum":0.1053,"type":"quantitative"},"text":{"field":"t"}}},
{"transform":[{"filter":{"field":"k","equal":"lab"}}],
"mark":{"type":"text","fontSize":13.5,"align":"center","baseline":"alphabetic","color":"black"},
"encoding":{"x":{"datum":7.5,"type":"quantitative"},"y":{"datum":0.10265,"type":"quantitative"},"text":{"field":"n"}}}
]}
},
{
"data":{"values":[
{"v":0,"lo":-3.703,"hi":-3.356},{"v":1,"lo":-3.356,"hi":-3.009},{"v":2,"lo":-3.009,"hi":-2.661},{"v":3,"lo":-2.661,"hi":-2.314},{"v":4,"lo":-2.314,"hi":-1.966},{"v":5,"lo":-1.966,"hi":-1.619},{"v":6,"lo":-1.619,"hi":-1.272},{"v":7,"lo":-1.272,"hi":-0.924},{"v":8,"lo":-0.924,"hi":-0.577}
]},
"width":24,"height":441,
"title":{"text":" ","fontSize":13,"offset":3.5},
"layer":[
{"mark":"rect",
"encoding":{
"y":{"field":"lo","type":"quantitative","scale":{"domain":[-3.703,-0.577],"nice":false,"zero":false},
"axis":{"orient":"right","values":[-3.703,-3.356,-3.009,-2.661,-2.314,-1.966,-1.619,-1.272,-0.924,-0.577],"tickCount":20,"format":".3f","title":"residual error norm, log₁₀(‖c − A · p‖)","titleAngle":270,"titleBaseline":"top","titlePadding":3,"labelFlush":false,"labelPadding":2}},
"y2":{"field":"hi"},
"color":{"field":"v","type":"ordinal","legend":null}}},
{"transform":[{"filter":"datum.lo > -3.7"}],
"mark":{"type":"rule","color":"white","strokeWidth":1},
"encoding":{"y":{"field":"lo","type":"quantitative"}}}
]
}
],
"spacing":4
}
